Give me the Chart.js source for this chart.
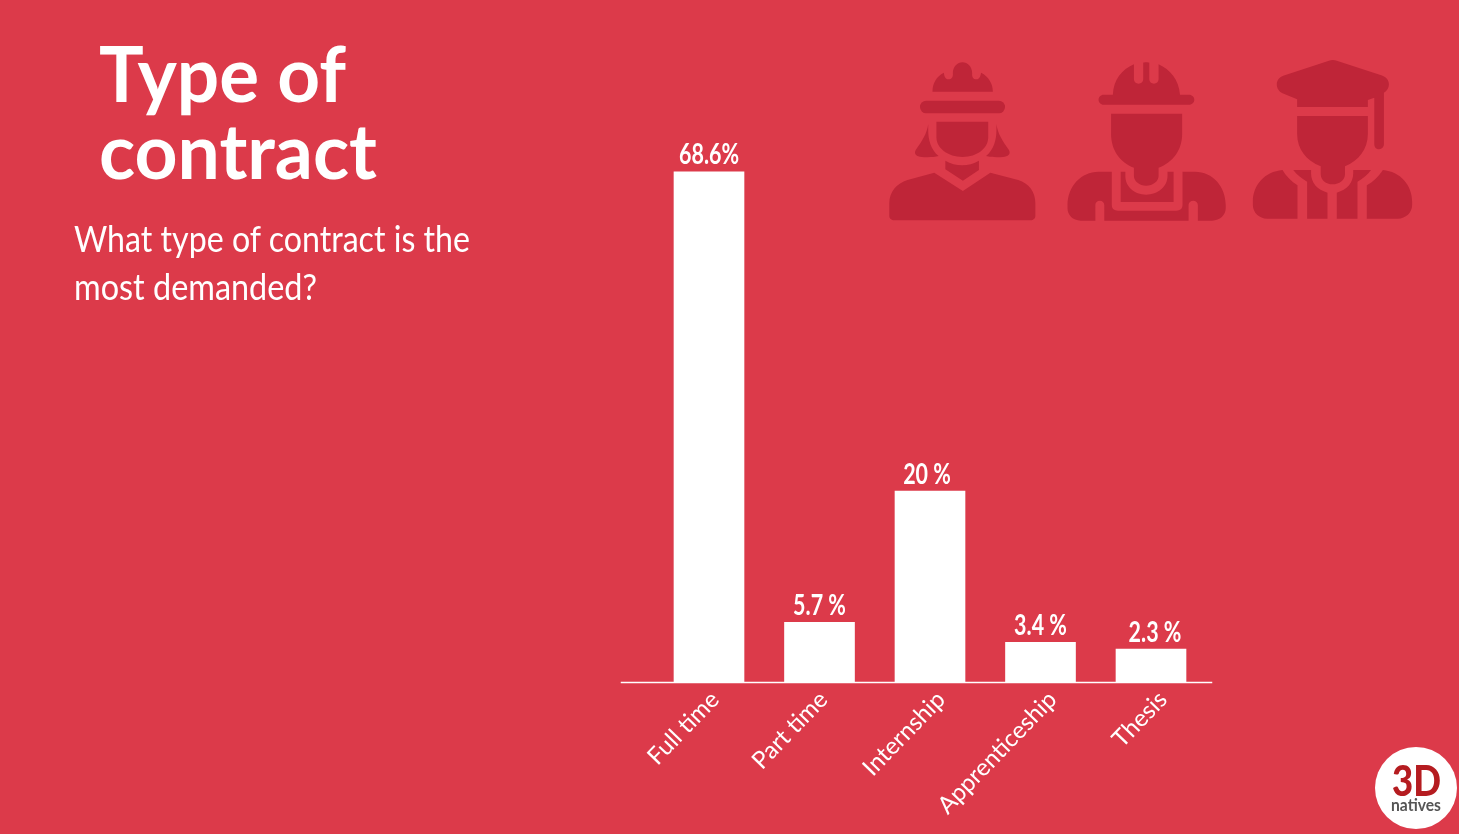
<!DOCTYPE html>
<html><head><meta charset="utf-8">
<style>
html,body{margin:0;padding:0;background:#dc3a4a;overflow:hidden}
#stage{position:relative;width:1459px;height:834px;overflow:hidden;background:#dc3a4a}
canvas{position:absolute;left:0;top:0}
.t{position:absolute;color:#fff;white-space:nowrap;transform-origin:0 0;line-height:1}
.title{font:700 76px Lato,sans-serif}
.sub{font:400 37px Lato,sans-serif}
svg{position:absolute}
</style></head><body>
<div id="stage">
<canvas id="c" width="1459" height="834"></canvas>
<div class="t title" data-w="247" style="left:99px;top:27px">Type of</div>
<div class="t title" data-w="278" style="left:99px;top:104px">contract</div>
<div class="t sub" data-w="396" style="left:74px;top:215px">What type of contract is the</div>
<div class="t sub" data-w="243" style="left:74px;top:263px">most demanded?</div>
<svg style="left:870px;top:50px" width="560" height="180" viewBox="0 0 1568 540" preserveAspectRatio="none" fill="#bf2538">
<path d="M175 125C175 100 185 80 207 68C208 85 215 88 220 88C228 88 233 82 232 70C232 50 245 37 259 37C273 37 286 50 286 70C285 82 290 88 297 88C303 88 309 84 311 68C332 80 344 100 344 125Z"/>
<rect x="140" y="152" width="238" height="38" rx="17" ry="19"/>
<path d="M186 215H331V262C331 295 300 321 259 321C218 321 186 295 186 262Z"/>
<path d="M163 222C160 250 145 275 128 300C122 312 130 320 145 321C160 322 180 322 192 318C170 298 163 270 163 240Z"/>
<path d="M354 222C357 250 372 275 389 300C395 312 387 320 372 321C357 322 337 322 325 318C347 298 354 270 354 240Z"/>
<path d="M211 332C240 350 276 350 305 332V360L260 392L211 358Z"/>
<path d="M180 368L260 423L337 368L415 390C445 400 463 425 463 460V498C463 505 457 511 450 511H68C60 511 54 505 54 498V460C54 425 75 400 105 390Z"/>
<path d="M680 134C682 90 705 58 739 43V88C739 96 745 101 752 101C759 101 765 96 765 88V38C765 36 782 36 782 38V88C782 96 788 101 795 101C802 101 808 96 808 88V43C840 58 865 90 868 134H893C902 134 908 141 908 149C908 157 902 164 893 164H654C646 164 640 157 640 149C640 141 646 134 654 134Z"/>
<path d="M675 191H874V252C874 300 848 338 808 353V378C808 394 792 407 773 407C755 407 739 394 739 378V353C700 338 675 300 675 252Z"/>
<path d="M702 365H715V378C715 410 740 434 773 434C806 434 833 410 833 378V365H850V456H702Z"/>
<path d="M640 365H677V465C677 476 684 482 694 482H858C868 482 875 476 875 465V365H910C960 365 996 410 996 465V475C996 495 980 512 958 512H918V465C918 457 912 452 905 452C898 452 892 457 892 465V512H656V465C656 457 650 452 644 452C636 452 631 457 631 465V512H590C568 512 553 495 553 475V465C553 410 590 365 640 365Z"/>
<path d="M1285 32C1292 29 1300 29 1307 32L1435 77C1447 82 1453 92 1453 103C1453 115 1447 123 1439 128V283C1439 292 1432 298 1425 298C1418 298 1412 292 1412 283V143L1394 150V171H1196V148L1155 130C1145 125 1139 115 1139 103C1139 92 1145 82 1157 77Z"/>
<path d="M1196 198H1394V252C1394 298 1368 332 1330 349V372C1330 390 1314 403 1295 403C1277 403 1262 390 1262 372V349C1222 332 1196 298 1196 252Z"/>
<path d="M1155 360C1165 378 1180 395 1197 406V506H1112C1090 506 1072 488 1072 465V455C1072 405 1105 365 1155 360Z"/>
<path d="M1436 360C1426 378 1410 395 1391 406V506H1478C1500 506 1518 488 1518 465V455C1518 405 1485 365 1436 360Z"/>
<path d="M1185 360H1235V370C1235 398 1252 420 1281 428V506H1224V395C1210 385 1195 375 1185 360Z"/>
<path d="M1403 360H1353V370C1353 398 1336 420 1307 428V506H1365V395C1380 385 1393 375 1403 360Z"/>
</svg>
<svg style="left:1370px;top:742px" width="89" height="92" viewBox="0 0 89 92">
<circle cx="46" cy="46" r="41" fill="#fff"/>
<text x="22" y="54" font-family="Lato,sans-serif" font-weight="900" font-size="42" fill="#b51c20" textLength="49" lengthAdjust="spacingAndGlyphs">3D</text>
<text x="21" y="69" font-family="Lato,sans-serif" font-weight="700" font-size="17" fill="#555" textLength="50" lengthAdjust="spacingAndGlyphs">natives</text>
</svg>
</div>
<script src="https://cdn.jsdelivr.net/npm/chart.js@4/dist/chart.umd.min.js"></script>
<script>
// Categories and the percentages printed above the bars
const categories = ["Full time", "Part time", "Internship", "Apprenticeship", "Thesis"];
const valueLabels = ["68.6%", "5.7 %", "20 %", "3.4 %", "2.3 %"];
// Bar lengths with Full time = 68.6.
// The reference's bars are not proportional to its printed percentages.
const barLengths = [68.6, 8.1, 25.7, 5.4, 4.5];

document.fonts.ready.then(function () {
  document.querySelectorAll('.t').forEach(function (el) {
    el.style.transform = 'scaleX(' + (+el.dataset.w / el.getBoundingClientRect().width) + ')';
  });

  const decorations = {
    id: 'decorations',
    beforeDraw(chart) {
      // small per-label nudges so the rotated tick labels end where the reference's do
      const nudge = [-8, -10, -3, -2, -2];
      chart.scales.x.getLabelItems().forEach(function (item, i) {
        if (!item.nudged) { item.options.translation[0] += nudge[i]; item.nudged = true; }
      });
    },
    afterDatasetsDraw(chart) {
      const ctx = chart.ctx, x = chart.scales.x, y = chart.scales.y;
      const centring = [0, 0, -3, 0, 4];
      ctx.save();
      ctx.strokeStyle = '#fff';
      ctx.lineWidth = 1.5;
      ctx.beginPath();
      ctx.moveTo(x.left - 33, y.bottom);
      ctx.lineTo(x.right + 6, y.bottom);
      ctx.stroke();
      ctx.fillStyle = '#fff';
      ctx.textAlign = 'center';
      ctx.textBaseline = 'alphabetic';
      ctx.font = '700 29px Lato, sans-serif';
      chart.getDatasetMeta(0).data.forEach(function (bar, i) {
        ctx.save();
        ctx.translate(bar.x + centring[i], bar.y - 7.5);
        ctx.scale(0.74, 1);
        ctx.fillText(valueLabels[i], 0, 0);
        ctx.restore();
      });
      ctx.restore();
    }
  };

  new Chart(document.getElementById('c'), {
    type: 'bar',
    data: {
      labels: categories,
      datasets: [{ data: barLengths, backgroundColor: '#ffffff', barThickness: 70, borderWidth: 0 }]
    },
    options: {
      responsive: false,
      animation: false,
      devicePixelRatio: 1,
      layout: { padding: { left: 653.75, right: 252.75, top: 87, bottom: 0 } },
      plugins: { legend: { display: false }, title: { display: false }, tooltip: { enabled: false } },
      scales: {
        x: {
          grid: { display: false },
          border: { display: false },
          afterFit(s) { s.height = 151.5; },
          ticks: {
            color: '#fff',
            font: { family: 'Lato, sans-serif', size: 24, weight: 400 },
            minRotation: 46, maxRotation: 46,
            autoSkip: false,
            labelOffset: 14,
            padding: -5
          }
        },
        y: { display: false, min: 0, max: 80 }
      }
    },
    plugins: [decorations]
  });
});
</script>
</body></html>
